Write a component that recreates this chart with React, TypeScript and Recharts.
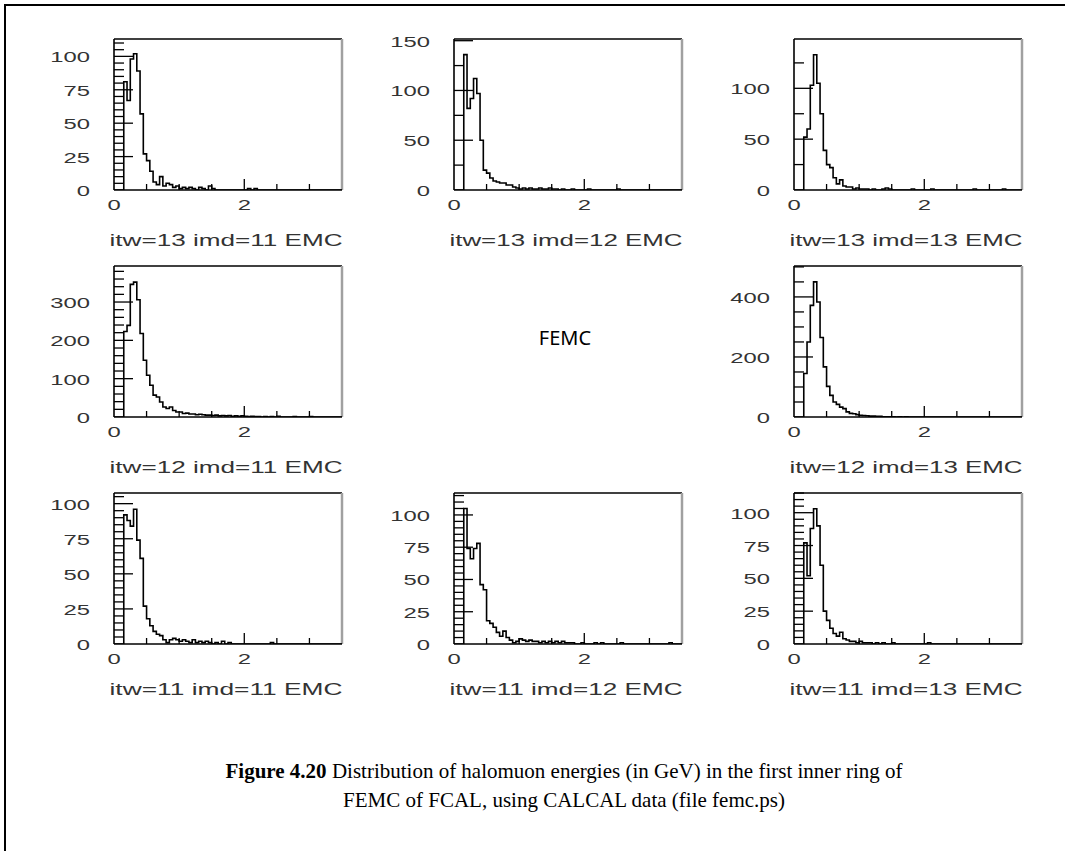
import React from 'react';
import { LineChart, Line, XAxis, YAxis, ReferenceLine } from 'recharts';

// histogram bins: 70 bins of 0.05 GeV from 0 to 3.5
const BIN = 0.05;
const X_MAX = 3.5;
const X_TICKS = [0, 0.5, 1, 1.5, 2, 2.5, 3, 3.5];
const X_LABELS = [0, 2];

const H1311 = [
  0, 0, 0, 81, 67, 98, 102, 89, 57, 27,
  22, 14, 6, 4, 10, 3, 5, 4, 2, 3,
  1, 2, 1, 2, 1, 0, 2, 1, 0, 3,
  1, 0, 0, 0, 0, 0, 0, 0, 0, 0,
  0, 1, 0, 1, 0, 0, 0, 0, 0, 0,
  0, 0, 0, 0, 0, 0, 0, 0, 0, 0,
  0, 0, 0, 0, 0, 0, 0, 0, 0, 0,
];
const H1312 = [
  0, 0, 0, 136, 82, 92, 112, 97, 50, 20,
  17, 12, 9, 8, 7, 7, 5, 5, 3, 2,
  1, 2, 1, 2, 1, 1, 2, 1, 1, 2,
  1, 1, 0, 1, 0, 0, 1, 0, 0, 0,
  0, 1, 0, 0, 0, 0, 0, 0, 0, 0,
  1, 0, 0, 0, 0, 0, 0, 0, 0, 0,
  0, 0, 0, 0, 0, 0, 0, 0, 0, 0,
];
const H1313 = [
  0, 0, 0, 52, 60, 103, 133, 105, 75, 39,
  25, 22, 12, 6, 10, 4, 3, 3, 1, 2,
  1, 1, 1, 0, 1, 0, 0, 1, 2, 1,
  0, 0, 0, 0, 0, 0, 1, 0, 0, 0,
  0, 0, 1, 0, 0, 0, 0, 0, 0, 0,
  0, 0, 0, 0, 0, 1, 0, 0, 0, 0,
  0, 0, 0, 0, 1, 0, 0, 0, 0, 0,
];
const H1211 = [
  0, 0, 0, 223, 239, 346, 352, 306, 218, 148,
  109, 83, 57, 52, 39, 26, 22, 26, 17, 13,
  13, 9, 10, 8, 8, 6, 7, 6, 5, 5,
  4, 5, 3, 4, 3, 4, 2, 3, 2, 3,
  2, 1, 2, 1, 1, 0, 1, 0, 1, 0,
  2, 0, 0, 0, 0, 1, 0, 0, 0, 0,
  1, 0, 0, 0, 0, 0, 0, 0, 0, 0,
];
const H1213 = [
  0, 0, 0, 145, 250, 372, 450, 383, 265, 167,
  102, 72, 50, 42, 33, 28, 17, 12, 11, 8,
  6, 5, 4, 3, 3, 2, 2, 1, 1, 1,
  1, 0, 1, 0, 1, 0, 0, 0, 0, 0,
  0, 0, 0, 0, 0, 0, 0, 0, 0, 0,
  0, 0, 0, 0, 0, 0, 0, 0, 0, 0,
  0, 0, 0, 0, 0, 0, 0, 0, 0, 0,
];
const H1111 = [
  0, 0, 0, 92, 88, 84, 96, 74, 61, 27,
  18, 13, 9, 7, 6, 3, 1, 3, 4, 3,
  2, 3, 2, 1, 3, 1, 2, 1, 2, 1,
  0, 1, 0, 2, 0, 1, 0, 0, 0, 0,
  0, 0, 0, 0, 0, 0, 0, 0, 1, 0,
  0, 0, 0, 0, 0, 0, 0, 0, 0, 0,
  0, 0, 0, 0, 0, 0, 0, 0, 0, 0,
];
const H1112 = [
  0, 0, 0, 105, 74, 66, 74, 78, 46, 42,
  18, 16, 13, 9, 6, 10, 5, 3, 1, 2,
  4, 3, 2, 3, 2, 2, 1, 2, 1, 2,
  1, 2, 1, 2, 1, 1, 1, 0, 0, 1,
  0, 0, 0, 1, 0, 1, 0, 0, 0, 0,
  0, 1, 0, 0, 0, 0, 0, 0, 0, 0,
  0, 0, 0, 0, 0, 0, 1, 0, 0, 0,
];
const H1113 = [
  0, 0, 0, 77, 52, 88, 103, 90, 60, 25,
  18, 12, 8, 6, 9, 4, 3, 2, 2, 1,
  2, 1, 1, 1, 0, 1, 0, 1, 0, 0,
  1, 0, 0, 0, 0, 0, 0, 0, 0, 0,
  0, 1, 0, 0, 0, 0, 0, 0, 0, 0,
  0, 0, 0, 0, 0, 0, 0, 0, 0, 0,
  0, 0, 0, 0, 0, 0, 0, 0, 0, 0,
];

// plot geometry
const YW = 90;
const TM = 4;
const RM = 4;
const PW = 228;
const PH = 151;
const XH = 30;

const LABEL_FONT = '"Liberation Sans", Arial, sans-serif';

type Panel = {
  caption: string;
  vals: number[];
  top: number;
  label: number; // labelled / long tick step
  minor: number; // short tick step
  fx: number;
  fy: number;
  cy: number; // caption baseline
};

const PANELS: Panel[] = [
  { caption: 'itw=13 imd=11 EMC', vals: H1311, top: 113, label: 25, minor: 5, fx: 114, fy: 39, cy: 246 },
  { caption: 'itw=13 imd=12 EMC', vals: H1312, top: 151.7, label: 50, minor: 25, fx: 454, fy: 39, cy: 246 },
  { caption: 'itw=13 imd=13 EMC', vals: H1313, top: 148.5, label: 50, minor: 25, fx: 794, fy: 39, cy: 246 },
  { caption: 'itw=12 imd=11 EMC', vals: H1211, top: 394, label: 100, minor: 20, fx: 114, fy: 266, cy: 473 },
  { caption: 'itw=12 imd=13 EMC', vals: H1213, top: 503, label: 200, minor: 50, fx: 794, fy: 266, cy: 473 },
  { caption: 'itw=11 imd=11 EMC', vals: H1111, top: 107.6, label: 25, minor: 5, fx: 114, fy: 493, cy: 695 },
  { caption: 'itw=11 imd=12 EMC', vals: H1112, top: 117, label: 25, minor: 5, fx: 454, fy: 493, cy: 695 },
  { caption: 'itw=11 imd=13 EMC', vals: H1113, top: 115, label: 25, minor: 5, fx: 794, fy: 493, cy: 695 },
];

const toRows = (vals: number[]) => {
  const rows = vals.map((v, k) => ({ x: +(k * BIN).toFixed(2), v }));
  rows.push({ x: X_MAX, v: vals[vals.length - 1] });
  return rows;
};

const yTicksFor = (p: Panel) => {
  const out: number[] = [];
  for (let v = 0; v <= p.top + 0.01; v += p.minor) out.push(v);
  return out;
};

function Histo({ p }: { p: Panel }) {
  const bottom = TM + PH;
  const renderY = (props: any) => {
    const v = props.payload.value;
    const y = props.payload.coordinate ?? props.y;
    const isMajor = Math.abs(v / p.label - Math.round(v / p.label)) < 1e-6;
    return (
      <g>
        {v > 0 && (
          <line x1={YW} x2={YW + (isMajor ? 19 : 10)} y1={y} y2={y} stroke="#000" strokeWidth={1.3} />
        )}
        {isMajor && (
          <text
            transform={`translate(${YW - 24},${y + 6}) scale(1.7,1)`}
            textAnchor="end"
            fontFamily={LABEL_FONT}
            fontSize={14}
            fill="#333"
          >
            {v}
          </text>
        )}
      </g>
    );
  };
  const renderX = (props: any) => {
    const v = props.payload.value;
    const x = props.payload.coordinate ?? props.x;
    const isMajor = X_LABELS.includes(v);
    return (
      <g>
        {v > 0 && v < X_MAX && (
          <line x1={x} x2={x} y1={bottom} y2={bottom - (isMajor ? 11 : 6)} stroke="#000" strokeWidth={1.3} />
        )}
        {isMajor && (
          <text
            transform={`translate(${x},${bottom + 20}) scale(1.7,1)`}
            textAnchor="middle"
            fontFamily={LABEL_FONT}
            fontSize={14}
            fill="#333"
          >
            {v}
          </text>
        )}
      </g>
    );
  };
  return (
    <div style={{ position: 'absolute', left: p.fx - YW, top: p.fy - TM }}>
      <LineChart
        width={YW + PW + RM}
        height={TM + PH + XH}
        data={toRows(p.vals)}
        margin={{ top: TM, right: RM, bottom: 0, left: 0 }}
      >
        <XAxis
          dataKey="x"
          type="number"
          domain={[0, X_MAX]}
          ticks={X_TICKS}
          interval={0}
          tick={renderX}
          tickLine={false}
          axisLine={{ stroke: '#000', strokeWidth: 1.6 }}
          height={XH}
          allowDataOverflow
        />
        <YAxis
          type="number"
          domain={[0, p.top]}
          ticks={yTicksFor(p)}
          interval={0}
          tick={renderY}
          tickLine={false}
          axisLine={{ stroke: '#000', strokeWidth: 1.6 }}
          width={YW}
          allowDataOverflow
        />
        <ReferenceLine y={p.top} stroke="#000" strokeWidth={1.6} />
        <ReferenceLine x={X_MAX} stroke="#a0a0a0" strokeWidth={2.5} />
        <Line
          type="stepAfter"
          dataKey="v"
          stroke="#000"
          strokeWidth={1.6}
          dot={false}
          activeDot={false}
          isAnimationActive={false}
        />
      </LineChart>
    </div>
  );
}

export default function App() {
  return (
    <div style={{ position: 'relative', width: 1067, height: 851, background: '#fff', overflow: 'hidden' }}>
      <style>{'body{margin:0;background:#fff}'}</style>
      {PANELS.map((p, i) => (
        <Histo key={i} p={p} />
      ))}
      <svg width={1067} height={851} style={{ position: 'absolute', left: 0, top: 0, pointerEvents: 'none' }}>
        <line x1={4} x2={1065} y1={5} y2={5} stroke="#000" strokeWidth={2} />
        <line x1={5} x2={5} y1={4} y2={851} stroke="#000" strokeWidth={2} />
        {PANELS.map((p, i) => (
          <text
            key={i}
            x={p.fx + PW / 2 - 2}
            y={p.cy}
            textAnchor="middle"
            fontFamily={LABEL_FONT}
            fontSize={17}
            fill="#333"
            textLength={233}
            lengthAdjust="spacingAndGlyphs"
          >
            {p.caption}
          </text>
        ))}
        <text x={565} y={345} textAnchor="middle" fontFamily='"Noto Sans", sans-serif' fontSize={20} fill="#000">
          FEMC
        </text>
        <text x={564} y={778} textAnchor="middle" fontFamily='"Liberation Serif", serif' fontSize={21} fill="#000">
          <tspan fontWeight="bold">Figure 4.20</tspan> Distribution of halomuon energies (in GeV) in the first inner ring of
        </text>
        <text x={564} y={807} textAnchor="middle" fontFamily='"Liberation Serif", serif' fontSize={21} fill="#000">
          FEMC of FCAL, using CALCAL data (file femc.ps)
        </text>
      </svg>
    </div>
  );
}
